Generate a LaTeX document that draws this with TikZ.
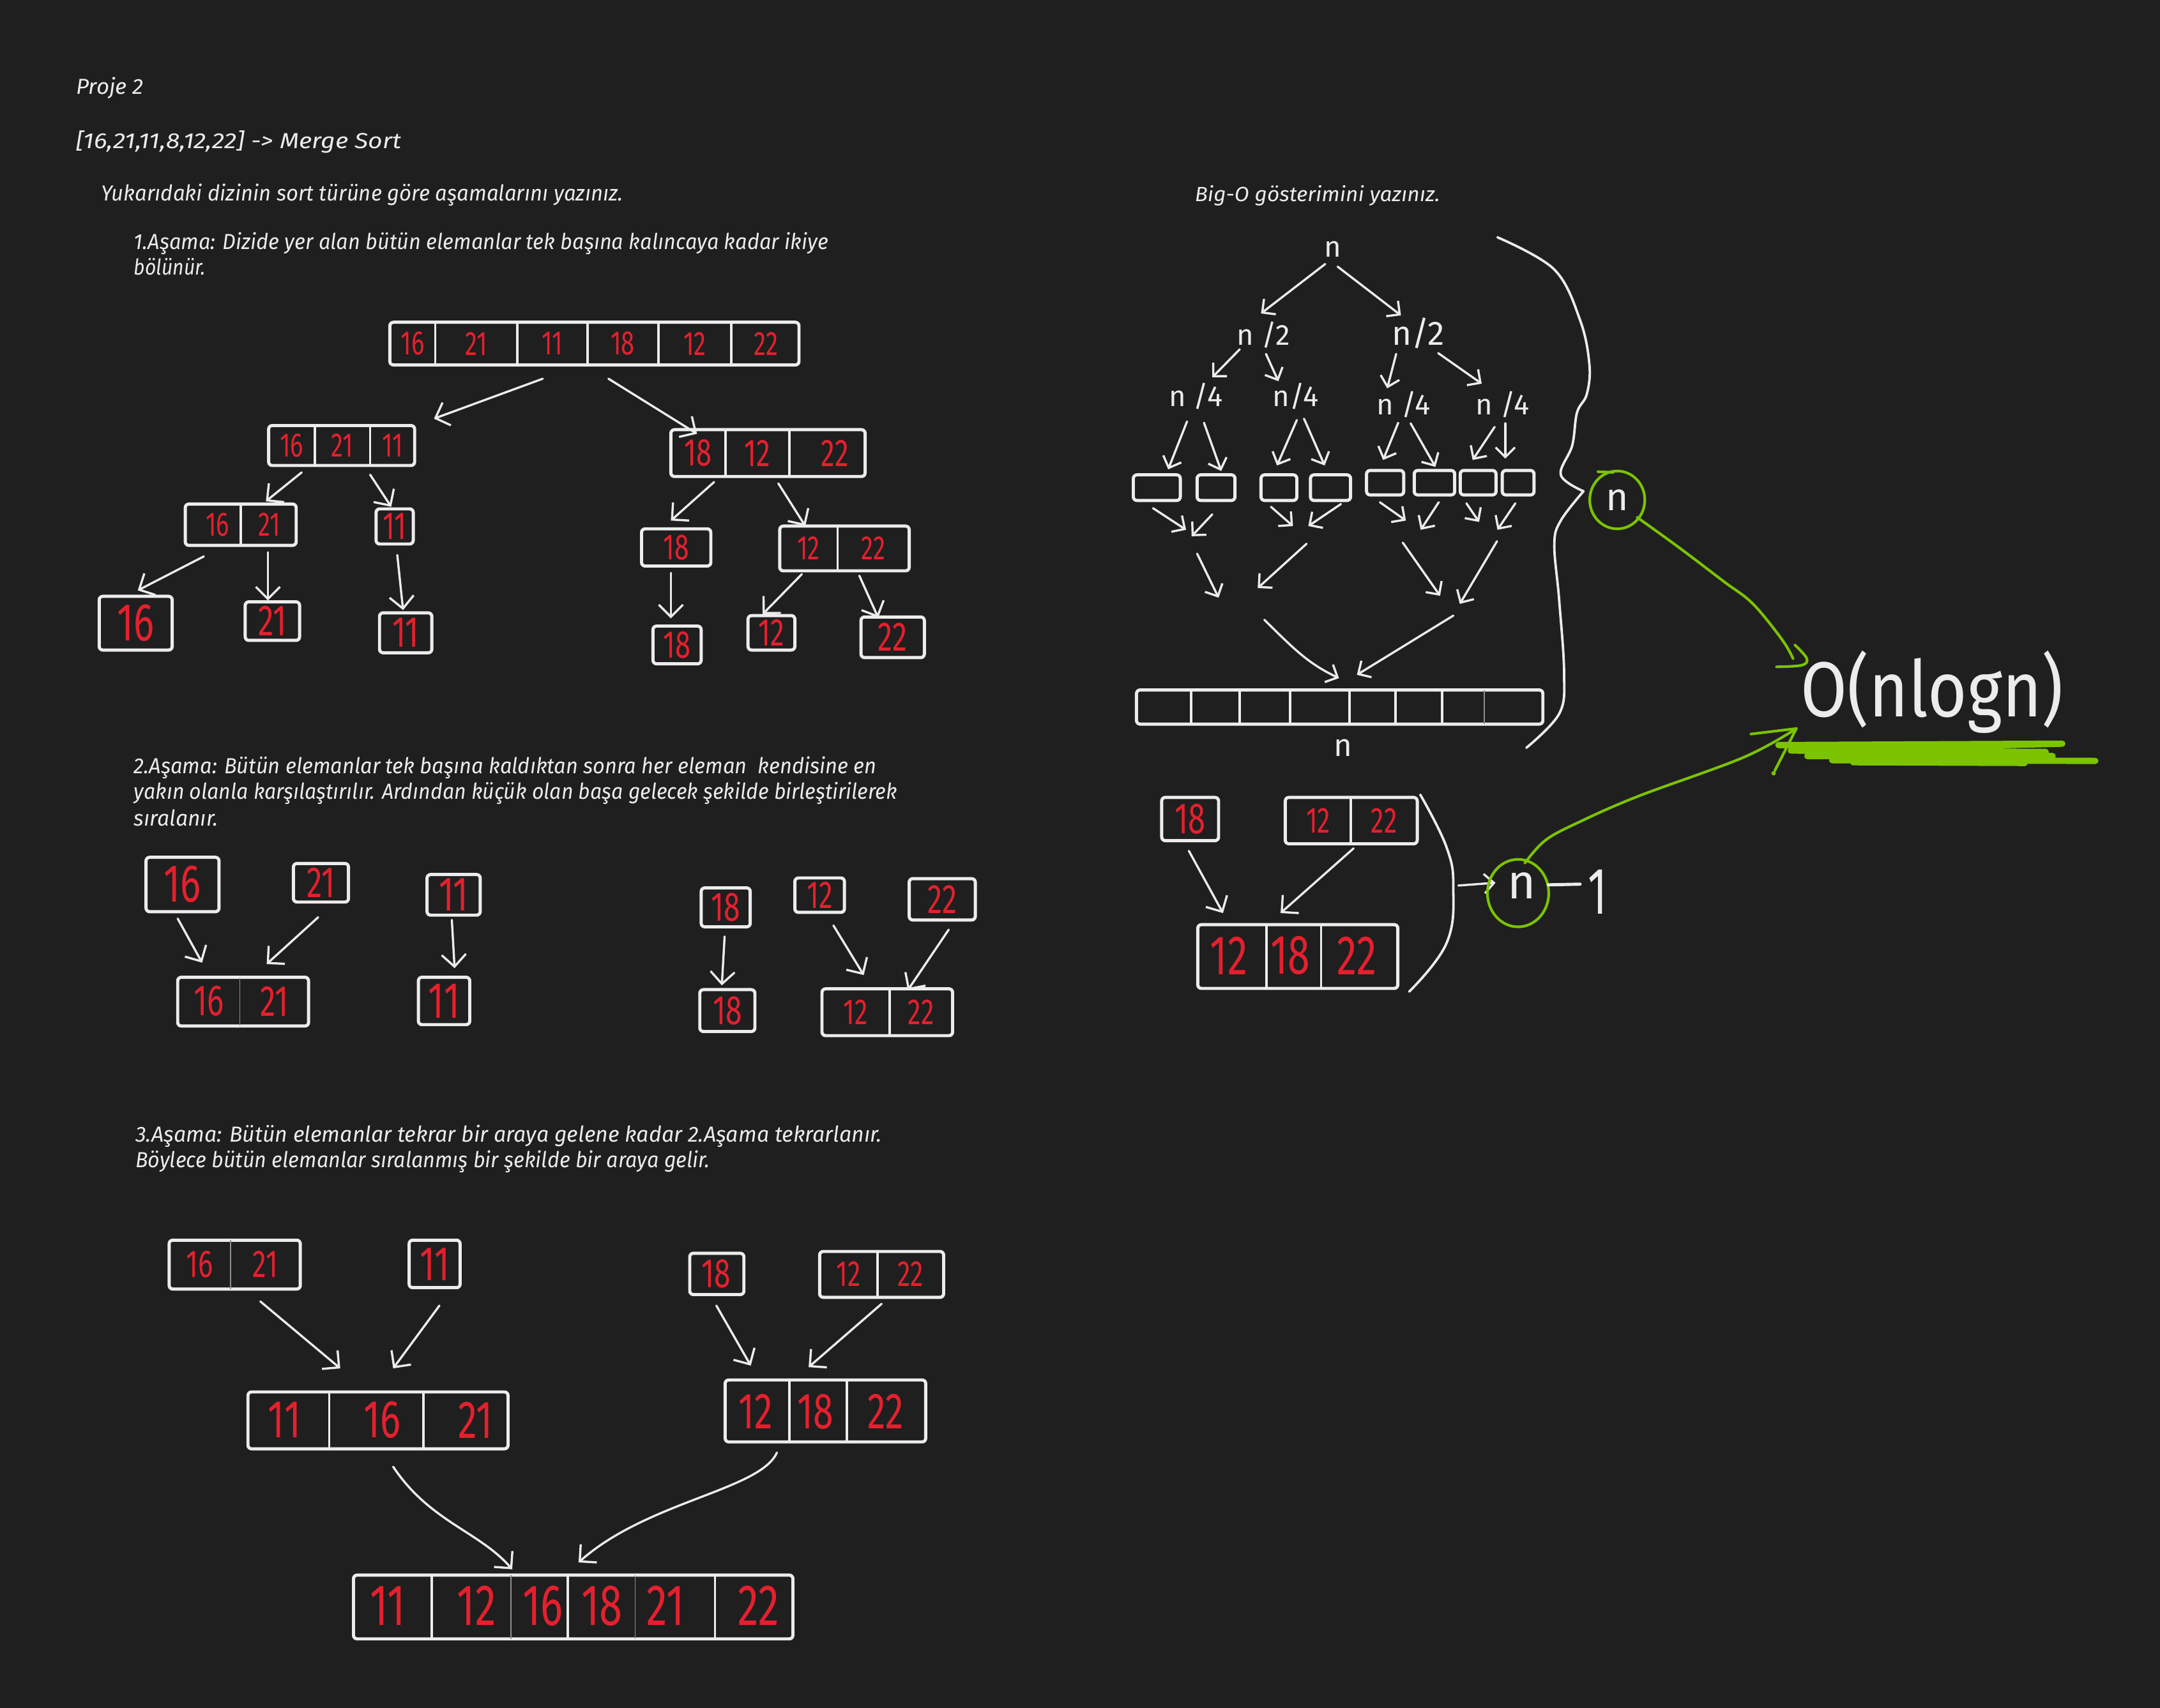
\documentclass[tikz,border=0pt]{standalone}
\usepackage{fontspec}
\setmainfont{Fira Sans}
\usepackage{graphicx}
\usetikzlibrary{arrows.meta,shapes.geometric}
\definecolor{bg}{HTML}{1F1F1F}
\definecolor{wh}{HTML}{ECECEC}
\definecolor{nr}{HTML}{E5202E}
\definecolor{gr}{HTML}{7CC300}
\newcommand\hdig[1]{\scalebox{0.72}[1]{#1}}
\newcommand\txtline[2]{\resizebox{#1}{\height}{#2}}
\begin{document}
\begin{tikzpicture}[x=0.02cm,y=-0.02cm,
  bx/.style={draw=wh, line width=1.3pt, rounded corners=1.5pt},
  dv/.style={draw=wh, line width=1pt},
  dvt/.style={draw=wh!55!bg, line width=0.4pt},
  arr/.style={draw=wh, line width=0.9pt, line cap=round, -{Straight Barb[length=5pt,width=10pt,line width=0.9pt]}},
  sarr/.style={draw=wh, line width=0.9pt, line cap=round, -{Straight Barb[length=4pt,width=8pt,line width=0.9pt]}},
  dig/.style={text=nr, inner sep=0pt, font=\fontsize{#1}{#1}\selectfont},
  tx/.style={text=wh, anchor=base west, inner sep=0pt, font=\fontsize{9}{11}\selectfont\itshape},
  wn/.style={text=wh, inner sep=0pt, font=\fontsize{#1}{#1}\selectfont},
  gl/.style={draw=gr, line width=1.1pt, line cap=round, line join=round},
  wl/.style={draw=wh, line width=1pt, line cap=round, line join=round}]
\fill[bg] (0,0) rectangle (1568,1240);
\useasboundingbox (0,0) rectangle (1568,1240);

% ---------- texts ----------
\node[tx] (t0) at (55,68.5) {\txtline{0.98cm}{Proje 2}};
\node[tx] (t1) at (55,108) {\txtline{4.72cm}{[16,21,11,8,12,22] -> Merge Sort}};
\node[tx] (t2) at (73,146) {\txtline{7.58cm}{Yukarıdaki dizinin sort türüne göre aşamalarını yazınız.}};
\node[tx] (t3) at (97,181) {\txtline{10.08cm}{1.Aşama: Dizide yer alan bütün elemanlar tek başına kalıncaya kadar ikiye}};
\node[tx] (t4) at (97,199.5) {\txtline{1.04cm}{bölünür.}};
\node[tx] (t5) at (97,561.5) {\txtline{10.78cm}{2.Aşama: Bütün elemanlar tek başına kaldıktan sonra her eleman\ \ kendisine en}};
\node[tx] (t6) at (97,580.3) {\txtline{11.08cm}{yakın olanla karşılaştırılır. Ardından küçük olan başa gelecek şekilde birleştirilerek}};
\node[tx] (t7) at (97,599.6) {\txtline{1.22cm}{sıralanır.}};
\node[tx] (t8) at (98,829) {\txtline{10.84cm}{3.Aşama: Bütün elemanlar tekrar bir araya gelene kadar 2.Aşama tekrarlanır.}};
\node[tx] (t9) at (98,847.6) {\txtline{8.34cm}{Böylece bütün elemanlar sıralanmış bir şekilde bir araya gelir.}};
\node[tx, font=\fontsize{8.5}{10}\selectfont\itshape] (t10) at (867,146.5) {\txtline{3.56cm}{Big-O gösterimini yazınız.}};

% ---------- stage 1 ----------
\draw[bx] (283,234) rectangle (580,265);
\foreach \x in {316,375.6,426.5,478,531} \draw[dv] (\x,234) -- (\x,265);
\node[dig=14] (s1a) at (299.5,249.5) {\hdig{16}};
\node[dig=14] (s1b) at (345.8,249.5) {\hdig{21}};
\node[dig=14] (s1c) at (401,249.5) {\hdig{11}};
\node[dig=14] (s1d) at (452,249.5) {\hdig{18}};
\node[dig=14] (s1e) at (504.5,249.5) {\hdig{12}};
\node[dig=14] (s1f) at (556,249.5) {\hdig{22}};

\draw[bx] (195,309) rectangle (301,338);
\foreach \x in {228.6,268.7} \draw[dv] (\x,309) -- (\x,338);
\node[dig=14] (s2a) at (211.8,323.5) {\hdig{16}};
\node[dig=14] (s2b) at (248.6,323.5) {\hdig{21}};
\node[dig=14] (s2c) at (284.8,323.5) {\hdig{11}};

\draw[bx] (487,312) rectangle (628,346);
\foreach \x in {526.5,573} \draw[dv] (\x,312) -- (\x,346);
\node[dig=16] (s3a) at (506.7,329) {\hdig{18}};
\node[dig=16] (s3b) at (549.7,329) {\hdig{12}};
\node[dig=16] (s3c) at (606,329) {\hdig{22}};

\draw[bx] (134.5,366) rectangle (215,396);
\draw[dv] (174.8,366) -- (174.8,396);
\node[dig=14] (s4a) at (158,381) {\hdig{16}};
\node[dig=14] (s4b) at (195.5,381) {\hdig{21}};

\draw[bx] (273,369.5) rectangle (300,395);
\node[dig=16] (s5) at (286.5,382) {\hdig{11}};

\draw[bx] (72,433) rectangle (125,472);
\node[dig=22] (s6) at (98.5,452.5) {\hdig{16}};
\draw[bx] (178,437) rectangle (217.5,465);
\node[dig=18] (s7) at (197.7,451) {\hdig{21}};
\draw[bx] (275.5,445) rectangle (313.5,474);
\node[dig=18] (s8) at (294.5,459.5) {\hdig{11}};

\draw[bx] (465.7,384) rectangle (516,411);
\node[dig=15] (s9) at (490.8,397.5) {\hdig{18}};
\draw[bx] (566,382) rectangle (660,414.5);
\draw[dv] (608,382) -- (608,414.5);
\node[dig=14] (s10a) at (587,398) {\hdig{12}};
\node[dig=14] (s10b) at (634,398) {\hdig{22}};

\draw[bx] (474,454.6) rectangle (509,482);
\node[dig=16] (s11) at (491.5,468.3) {\hdig{18}};
\draw[bx] (543,447) rectangle (577,472);
\node[dig=16] (s12) at (560,459.5) {\hdig{12}};
\draw[bx] (625,448) rectangle (671,477.5);
\node[dig=17] (s13) at (648,462.7) {\hdig{22}};

% ---------- stage 2 ----------
\draw[bx] (106,622.5) rectangle (159,662);
\node[dig=22] (m1) at (132.5,642) {\hdig{16}};
\draw[bx] (213,627) rectangle (253,655);
\node[dig=18] (m2) at (233,641) {\hdig{21}};
\draw[bx] (310,635) rectangle (348.6,664.5);
\node[dig=20] (m3) at (329.3,649.7) {\hdig{11}};
\draw[bx] (129,709.6) rectangle (224,745);
\draw[dvt] (174,709.6) -- (174,745);
\node[dig=18] (m4a) at (151.5,727) {\hdig{16}};
\node[dig=18] (m4b) at (199,727) {\hdig{21}};
\draw[bx] (303.7,709.6) rectangle (341,744);
\node[dig=21] (m5) at (322.4,727) {\hdig{11}};

\draw[bx] (509,644.7) rectangle (544.6,673);
\node[dig=17] (m6) at (526.8,659) {\hdig{18}};
\draw[bx] (577,637.5) rectangle (613,662.5);
\node[dig=16] (m7) at (595,650) {\hdig{12}};
\draw[bx] (660,638) rectangle (708,668);
\node[dig=17] (m8) at (684,653) {\hdig{22}};
\draw[bx] (508,718.6) rectangle (548,749);
\node[dig=17] (m9) at (528,734) {\hdig{18}};
\draw[bx] (596.7,718) rectangle (691.5,752);
\draw[dv] (645.8,718) -- (645.8,752);
\node[dig=15] (m10a) at (621,735) {\hdig{12}};
\node[dig=15] (m10b) at (668.6,735) {\hdig{22}};

% ---------- stage 3 ----------
\draw[bx] (122.8,900.5) rectangle (218,936);
\draw[dvt] (167.4,900.5) -- (167.4,936);
\node[dig=16] (k1a) at (145,918) {\hdig{16}};
\node[dig=16] (k1b) at (192.7,918) {\hdig{21}};
\draw[bx] (297,900.5) rectangle (334,935);
\node[dig=20] (k2) at (315.5,918) {\hdig{11}};
\draw[bx] (500.7,910) rectangle (540,940);
\node[dig=17] (k3) at (520,925) {\hdig{18}};
\draw[bx] (595,908.7) rectangle (685,942);
\draw[dv] (637,908.7) -- (637,942);
\node[dig=15] (k4a) at (616,925) {\hdig{12}};
\node[dig=15] (k4b) at (661,925) {\hdig{22}};

\draw[bx] (180,1010.7) rectangle (368.8,1052);
\foreach \x in {239,307.4} \draw[dv] (\x,1010.7) -- (\x,1052);
\node[dig=22] (k5a) at (206.5,1031) {\hdig{11}};
\node[dig=22] (k5b) at (277.6,1031) {\hdig{16}};
\node[dig=22] (k5c) at (345,1031) {\hdig{21}};

\draw[bx] (526.4,1002) rectangle (672,1047);
\foreach \x in {573,614.7} \draw[dv] (\x,1002) -- (\x,1047);
\node[dig=21] (k6a) at (548.7,1025) {\hdig{12}};
\node[dig=21] (k6b) at (592,1025) {\hdig{18}};
\node[dig=21] (k6c) at (643,1025) {\hdig{22}};

\draw[bx] (256.6,1143.7) rectangle (575.6,1190);
\foreach \x in {313.4,412,519} \draw[dv] (\x,1143.7) -- (\x,1190);
\foreach \x in {371,461} \draw[dvt] (\x,1143.7) -- (\x,1190);
\node[dig=24] (k7a) at (281.6,1166) {\hdig{11}};
\node[dig=24] (k7b) at (346,1166) {\hdig{12}};
\node[dig=24] (k7c) at (394,1166) {\hdig{16}};
\node[dig=24] (k7d) at (437,1166) {\hdig{18}};
\node[dig=24] (k7e) at (483,1166) {\hdig{21}};
\node[dig=24] (k7f) at (550.6,1166) {\hdig{22}};

% ---------- bottom right merge ----------
\draw[bx] (843.3,579) rectangle (884.6,610.4);
\node[dig=18] (r1) at (864,594.7) {\hdig{18}};
\draw[bx] (933,579) rectangle (1028.8,612.7);
\draw[dv] (980.6,579) -- (980.6,612.7);
\node[dig=15] (r2a) at (957,596) {\hdig{12}};
\node[dig=15] (r2b) at (1004.7,596) {\hdig{22}};
\draw[bx] (869.5,671.4) rectangle (1014.7,717.7);
\foreach \x in {919.2,959} \draw[dv] (\x,671.4) -- (\x,717.7);
\node[dig=23] (r3a) at (892,694) {\hdig{12}};
\node[dig=23] (r3b) at (936.7,694) {\hdig{18}};
\node[dig=23] (r3c) at (985,694) {\hdig{22}};
\draw[wl] plot[smooth, tension=0.7] coordinates {(1031,577) (1050,615) (1055,645) (1050,685) (1023,720)};

% ---------- arrows (left part) ----------
\foreach \n/\ax/\ay/\bx/\by in {
 a1/394/275/315/304, a2/441.7/275/506/315, a3/219/343/193/364, a4/268.7/344.7/284/368,
 a5/148/404/100/428.7, a6/194.5/401/194.5/436, a7/288.4/403/292.6/443, a8/518.4/350/487/378,
 a9/565/351/584.6/382, a10/487/416/487/449, a11/582/417/553.6/446, a12/623.8/418/637.5/448.5,
 b1/129/667/146.7/699, b2/231/666/193.6/700, b3/328/668/330/703, b4/526/680/524/715.5,
 b5/605/672/627/708, b6/688.7/675/659/719,
 c1/189/945/247/993.6, c2/319/948/285.4/993.6, c3/520/948/545/991.6, c4/640/946.7/587/992.7,
 d1/863/617.8/887.8/663, d2/982.6/616/929.6/663}
 {\coordinate (\n-s) at (\ax,\ay); \coordinate (\n-e) at (\bx,\by); \draw[arr] (\n-s) -- (\n-e);}
\coordinate (c5-s) at (285.4,1065); \coordinate (c5-e) at (371.8,1139.5);
\draw[arr] (c5-s) .. controls (312,1105) and (348,1112) .. (c5-e);
\coordinate (c6-s) at (564,1054.7); \coordinate (c6-e) at (420,1134.5);
\draw[arr] (c6-s) .. controls (552,1082) and (470,1090) .. (c6-e);

% ---------- Big-O tree ----------
\node[wn=12] (bn0) at (967.7,181) {n};
\node[wn=12] (bn1) at (917.2,243) {n /2};
\node[wn=14] (bn2) at (1029.6,242) {n/2};
\node[wn=12] (bn3) at (868,287.6) {n /4};
\node[wn=12] (bn4) at (940.5,287.6) {n/4};
\node[wn=12] (bn5) at (1019,293.7) {n /4};
\node[wn=12] (bn6) at (1090.8,293.7) {n /4};

\foreach \xa/\xb in {822.7/856.8, 869/896.5, 915.4/941.4, 951.3/980.4}
  \draw[bx] (\xa,344.8) rectangle (\xb,363.4);
\foreach \xa/\xb in {992/1019, 1026.6/1056, 1060/1086, 1090.5/1113.6}
  \draw[bx] (\xa,341.6) rectangle (\xb,359.4);

\foreach \n/\ax/\ay/\bx/\by in {
 e1/962/191.7/915.4/227.6, e2/971/193.6/1017/229, e3/900/253.6/880/274, e4/919/257/928/276.8,
 e5/1013.5/257/1007/282, e6/1044/256.4/1075.6/278.6,
 f1/861.7/306/848/340.8, f2/874/307/886.5/342, f3/941.4/305/927/338, f4/946.6/304/961.6/338,
 f5/1015/307/1004/334, f6/1024/307.4/1042/339, f7/1085/310/1069/334, f8/1092.7/307.4/1092.7/333,
 g1/837/369/861/384.7, g2/880/373.5/865/389.4, g3/922.6/368/938.6/382, g4/973.4/366/949.7/382,
 g5/1001.7/364.7/1020.6/378, g6/1044.4/364.7/1031.3/384.7, g7/1064.5/365.5/1073.7/379, g8/1100/365.5/1087/384.7,
 h1/869/402/884.6/434, h2/948.5/394.8/913/427, h3/1018.3/394/1045.4/432.6, h4/1086.7/393/1059.7/438.5,
 i2/1055/447/985/490, d3/1058.7/643/1085.6/641}
 {\coordinate (\n-s) at (\ax,\ay); \coordinate (\n-e) at (\bx,\by); \draw[sarr] (\n-s) -- (\n-e);}
\coordinate (i1-s) at (917.8,450); \coordinate (i1-e) at (972,492.4);
\draw[sarr] (i1-s) .. controls (940,472) and (950,482) .. (i1-e);

\draw[bx] (825,501) rectangle (1120,525.8);
\foreach \x in {864.6,900,936.5,979.6,1013,1046.7} \draw[dv] (\x,501) -- (\x,525.8);
\draw[dvt] (1077.5,501) -- (1077.5,525.8);
\node[wn=13] (bn7) at (975,543) {n};

% brace
\draw[wl] plot[smooth, tension=0.6] coordinates {(1087,172.3) (1128.3,195.7) (1147.2,233) (1153.8,265) (1151.9,286.2) (1144.8,299.5) (1141.3,323.5) (1133,344.8) (1149.5,356.7)};
\draw[wl] plot[smooth, tension=0.6] coordinates {(1149.5,356.7) (1133,378) (1128.3,395.4) (1131.8,435.3) (1135.4,488.5) (1132,518) (1108,543)};

% green circled n
\node[ellipse, draw=gr, line width=1.1pt, minimum width=0.8cm, minimum height=0.84cm, inner sep=0pt, text=wh, font=\fontsize{16}{16}\selectfont] (nc) at (1174,363) {n};
\draw[gl] (1160,342.5) -- (1171,343);

% O(n log n)
\node[text=wh, inner sep=0pt] (bigo) at (1402.5,502.6) {\resizebox*{3.82cm}{1.2cm}{O(nlogn)}};

% green scribble underline
\draw[draw=gr, line width=2.6pt, line join=round, line cap=round] plot coordinates {(1291,541) (1497,540) (1300,545) (1485,546) (1312,549) (1490,549) (1330,552) (1521,552.5)};
\draw[draw=gr, line width=2pt, line cap=round] (1345,554) -- (1470,554.5);

% green arrow 1
\coordinate (g1s) at (1188.5,375.7);
\coordinate (g1e) at (1301.6,478.2);
\draw[gl] plot[smooth, tension=0.6] coordinates {(g1s) (1219,397.7) (1251,422) (1272.3,438.3) (1293.6,464.4) (g1e)};
\draw[gl] plot[smooth, tension=0.6] coordinates {(1303,468.4) (1311.5,478) (1308,483) (1289.6,484.2)};

% n - 1
\node[ellipse, draw=gr, line width=1.1pt, minimum width=0.89cm, minimum height=0.98cm, inner sep=0pt] (nc2) at (1102,648.5) {};
\node[wn=20] (nn) at (1104.6,643) {n};
\coordinate (mn-s) at (1124,642.5); \coordinate (mn-e) at (1147,642);
\draw[wl, line width=1.3pt] (mn-s) -- (mn-e);
\node[wn=26] (one) at (1159.5,647.5) {\scalebox{0.7}[1.05]{1}};

% green arrow 2
\coordinate (g2s) at (1107,626.6);
\coordinate (g2e) at (1304,529);
\draw[gl] plot[smooth, tension=0.6] coordinates {(g2s) (1122,610) (1147.2,596.5) (1189.6,578) (1265.5,550) (g2e)};
\draw[gl] (1271,533) -- (g2e) -- (1288.4,559.5);
\fill[gr] (1287.5,561.5) circle (1.6);
\end{tikzpicture}
\end{document}
